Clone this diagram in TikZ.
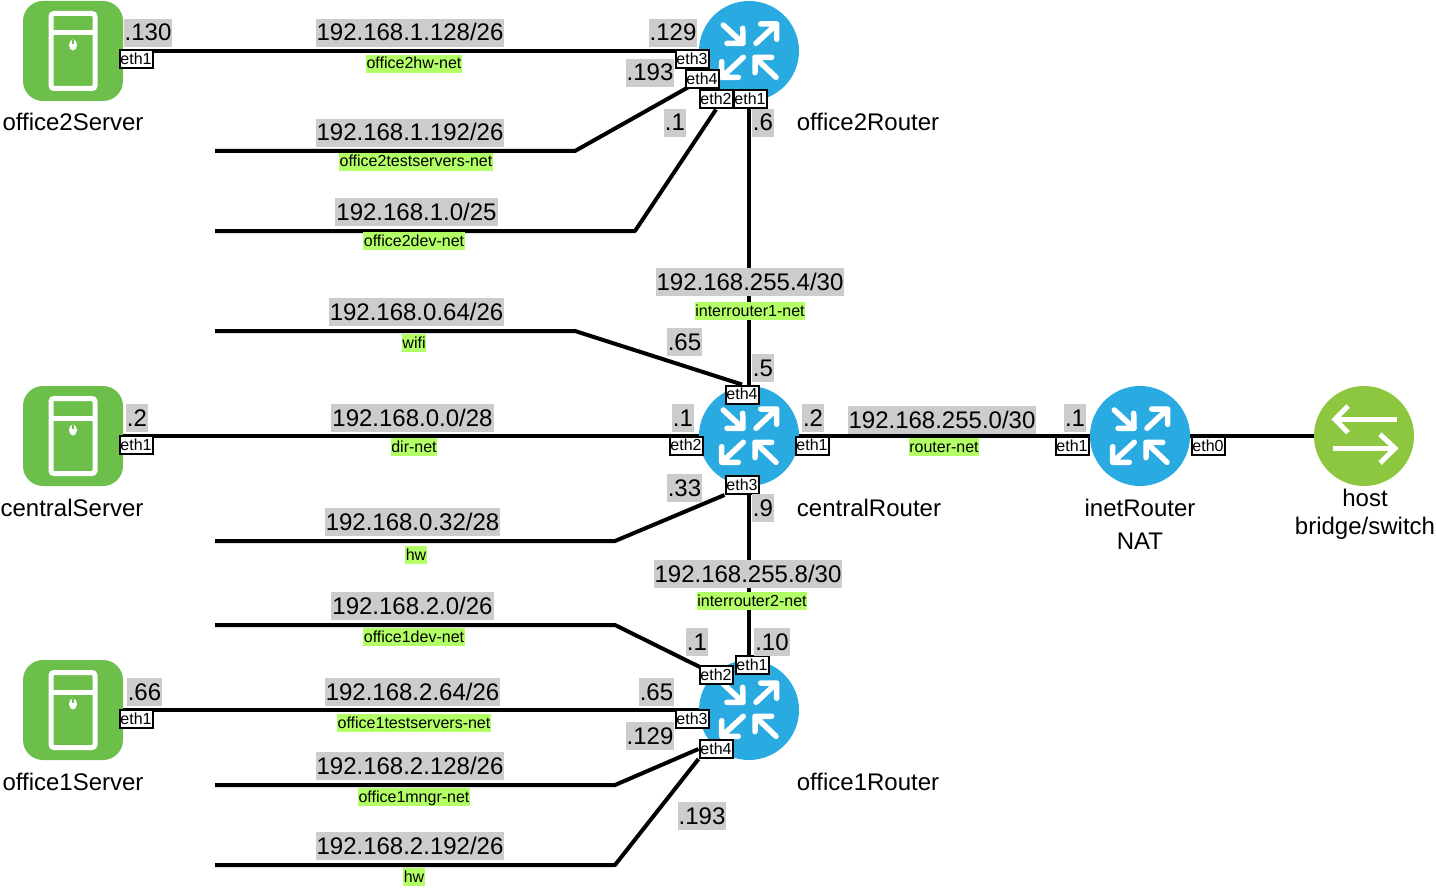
\documentclass[tikz,border=0pt]{standalone}
\usepackage{fontspec}
\setmainfont{Liberation Sans}
\usetikzlibrary{backgrounds}
\definecolor{routerblue}{HTML}{29AAE1}
\definecolor{servergreen}{HTML}{6CBF4B}
\definecolor{bridgegreen}{HTML}{8DC63F}
\definecolor{addrgray}{HTML}{CCCCCC}
\definecolor{netgreen}{HTML}{B3FF66}

\begin{document}
\begin{tikzpicture}[
x=1pt,
y=-1pt,
router/.style={
  circle,
  fill=routerblue,
  minimum size=100pt,
  inner sep=0pt,
  outer sep=0pt
  },
bridge/.style={
  router,
  fill=bridgegreen
  },
server/.style={
  rectangle,
  rounded corners=20pt,
  fill=servergreen,
  minimum size=100pt,
  inner sep=0pt,
  outer sep=0pt
  },
port/.style={
  draw,
  fill=white,
  line width=2pt,
  minimum width=33pt,
  minimum height=18pt,
  inner sep=0pt,
  text height=13pt,
  text depth=3pt,
  font=\fontsize{16}{18}\selectfont
  },
addr/.style={
  fill=addrgray,
  inner xsep=1pt,
  inner ysep=0pt,
  text height=22pt,
  text depth=6pt,
  font=\fontsize{24}{28}\selectfont
  },
netname/.style={
  fill=netgreen,
  inner xsep=0.5pt,
  inner ysep=0pt,
  text height=14pt,
  text depth=4pt,
  font=\fontsize{16}{18}\selectfont
  },
devname/.style={
  inner sep=0pt,
  text height=20pt,
  text depth=4pt,
  font=\fontsize{24}{28}\selectfont
  },
link/.style={
  line width=4pt
  },
icon/.style={
  draw=white,
  line width=5.5pt,
  line cap=round,
  line join=round
  },
routericon/.pic={
  \draw[icon] (-25.7,-26) -- (-6,-7.7) (-6.3,-22.7) -- (-6,-7.7) -- (-22,-7.7);
  \draw[icon] (7,-7.7) -- (27.7,-27) (11.7,-27) -- (27.7,-27) -- (27.7,-11.7);
  \draw[icon] (-5.7,6.3) -- (-27.3,26.3) (-27.3,10.7) -- (-27.3,26.3) -- (-10.7,26.3);
  \draw[icon] (27,26.3) -- (6,6.3) (22.7,6.3) -- (6,6.3) -- (6,21.7);
  },
servericon/.pic={
  \draw[draw=white,line width=5pt,rounded corners=3pt] (-22,-37.5) rectangle (22,37.5);
  \draw[draw=white,line width=5pt] (-22,-18) -- (22,-18);
  \fill[white] (0,-6) ellipse (4 and 5.5);
  \draw[servergreen,line width=1.5pt] (0,-11) -- (0,-7);
  },
bridgeicon/.pic={
  \draw[draw=white,line width=5pt] (32.7,-16.7) -- (-29,-16.7);
  \draw[draw=white,line width=5pt] (-16,-30) -- (-29,-16.7) -- (-16,-3.3);
  \draw[draw=white,line width=5pt] (-30.7,12.3) -- (31,12.3);
  \draw[draw=white,line width=5pt] (16,-1.7) -- (31,12.3) -- (16,27);
  }
]

\useasboundingbox (0,0) rectangle (1436,888);

\foreach \dev/\x/\y in {office2Server/73/51,centralServer/73/436,office1Server/73/710}
{\node[server] (\dev) at (\x,\y) {};
 \pic at (\dev) {servericon};
}
\foreach \dev/\x/\y in {office2Router/749/51,centralRouter/749/436,office1Router/749/710,inetRouter/1140/436}
{\node[router] (\dev) at (\x,\y) {};
 \pic at (\dev) {routericon};
}
\node[bridge] (hostBridge) at (1364,436) {};
\pic at (hostBridge) {bridgeicon};

\foreach \pname/\txt/\x/\y in {
  office2Server1/eth1/136/59.5,centralServer1/eth1/136/445,office1Server1/eth1/136/719,
  office2R3/eth3/692/59.5,office2R4/eth4/702/79.5,office2R2/eth2/716/99.5,office2R1/eth1/750/99.5,
  centralR4/eth4/742/394.5,centralR2/eth2/686/445.5,centralR1/eth1/812/445.5,centralR3/eth3/742/485,
  office1R1/eth1/752/665,office1R2/eth2/716/675,office1R3/eth3/692/719,office1R4/eth4/716/749,
  inetR1/eth1/1072/446,inetR0/eth0/1208/446}
  \node[port] (\pname) at (\x,\y) {\txt};

\foreach \x/\y/\txt in {
  148/32.7/.130,673/32.7/.129,650/72.7/.193,675/122.7/.1,763/122.7/.6,
  684.5/342/.65,763/368/.5,137/418/.2,683/418/.1,813/418/.2,1075/418/.1,
  684.5/488/.33,763/508/.9,697/642/.1,772/642/.10,144.5/692/.66,656.5/692/.65,650/736/.129,702/816/.193,
  410/32.7/{192.168.1.128/26},410/132.7/{192.168.1.192/26},416.5/212/{192.168.1.0/25},
  416.5/312/{192.168.0.64/26},750/282/{192.168.255.4/30},412.5/418/{192.168.0.0/28},
  942/420/{192.168.255.0/30},412.5/522/{192.168.0.32/28},748/574/{192.168.255.8/30},
  412.5/606/{192.168.2.0/26},412.5/692/{192.168.2.64/26},410/766/{192.168.2.128/26},410/846/{192.168.2.192/26}}
  \node[addr] (addr-\x-\y) at (\x,\y) {\txt};

\foreach \x/\y/\txt in {
  414/63.7/office2hw-net,416/161.7/office2testservers-net,414/241/office2dev-net,414/343/wifi,
  750/311/interrouter1-net,414/447/dir-net,944/447/router-net,416/555/hw,752/601/interrouter2-net,
  414/637/office1dev-net,414/723/office1testservers-net,414/797/office1mngr-net,414/877/hw}
  \node[netname] (net-\x-\y) at (\x,\y) {\txt};

\foreach \x/\y/\txt in {
  73/122.7/office2Server,72/508/centralServer,73/782/office1Server,
  868/122.7/office2Router,869/508/centralRouter,868/782/office1Router,
  1140/508/inetRouter,1140/541.7/NAT,1365/498/host,1365/526/bridge\slash switch}
  \node[devname] (dev-\x-\y) at (\x,\y) {\txt};

\begin{pgfonlayer}{background}
\foreach \a/\b in {office2Server/office2Router,centralServer/centralRouter,office1Server/office1Router,
  office2Router/centralRouter,centralRouter/office1Router,centralRouter/inetRouter,inetRouter/hostBridge}
  \draw[link] (\a) -- (\b);
\foreach \lan/\y/\xbend/\target in {
  testservers/151/575/office2R4.center,office2dev/231/635/office2R2.south,wifi/331/575/centralR4.north,
  hwnet/541/615/centralR3.south west,office1dev/625/615/office1R2.center,
  mngr/785/615/office1R4.west,hwlast/865/615/office1R4.south west}
{\coordinate (\lan-start) at (215,\y);
 \coordinate (\lan-bend) at (\xbend,\y);
 \draw[link,line join=bevel] (\lan-start) -- (\lan-bend) -- (\target);
}
\end{pgfonlayer}
\end{tikzpicture}
\end{document}
